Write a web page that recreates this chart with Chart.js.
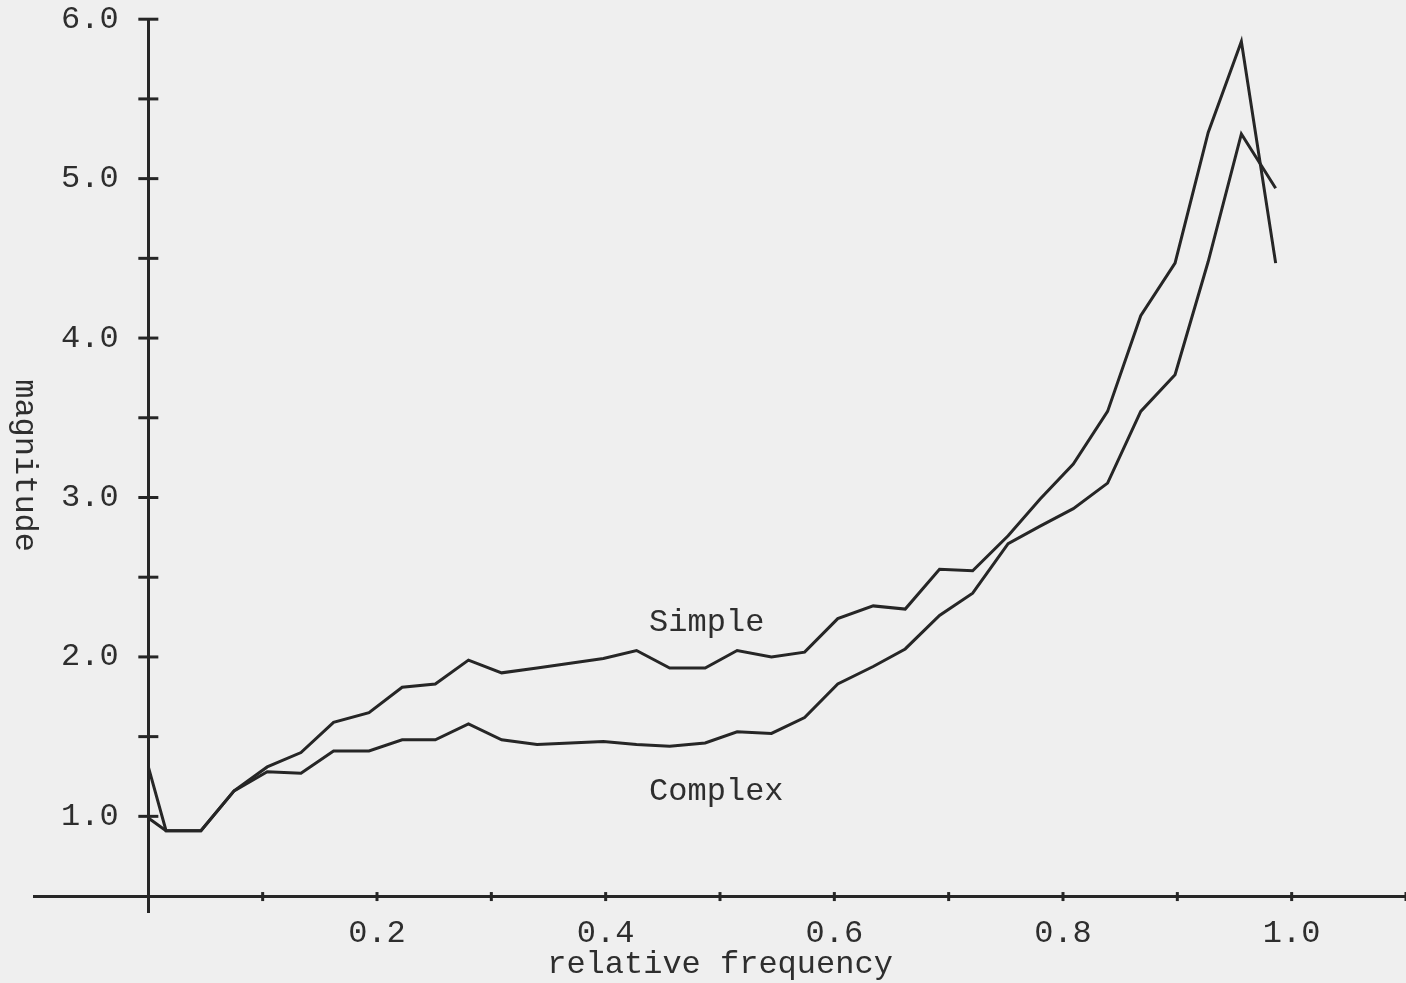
<!DOCTYPE html>
<html>
<head>
<meta charset="utf-8">
<title>magnitude vs relative frequency</title>
<script src="https://cdn.jsdelivr.net/npm/chart.js@4.4.0/dist/chart.umd.min.js"></script>
<style>
  html, body { margin: 0; padding: 0; background: #efefef; }
  canvas { display: block; }
</style>
</head>
<body>
<canvas id="magChart" width="1406" height="983"></canvas>
<script>
// sample points along the relative frequency axis
const freq = [0, 0.0155, 0.046, 0.075, 0.104, 0.1335, 0.162, 0.193, 0.222, 0.251, 0.280,
  0.309, 0.340, 0.369, 0.398, 0.427, 0.456, 0.487, 0.515, 0.545, 0.574,
  0.603, 0.634, 0.662, 0.692, 0.721, 0.752, 0.780, 0.809, 0.839, 0.868,
  0.898, 0.927, 0.956, 0.986];

const simpleMag = [0.99, 0.91, 0.91, 1.16, 1.31, 1.40, 1.59, 1.65, 1.81, 1.83, 1.98,
  1.90, 1.93, 1.96, 1.99, 2.04, 1.93, 1.93, 2.04, 2.00, 2.03,
  2.24, 2.32, 2.30, 2.55, 2.54, 2.76, 2.99, 3.21, 3.54, 4.14,
  4.47, 5.29, 5.86, 4.47];

const complexMag = [1.31, 0.91, 0.91, 1.16, 1.28, 1.27, 1.41, 1.41, 1.48, 1.48, 1.58,
  1.48, 1.45, 1.46, 1.47, 1.45, 1.44, 1.46, 1.53, 1.52, 1.62,
  1.83, 1.94, 2.05, 2.26, 2.40, 2.71, 2.82, 2.93, 3.09, 3.54,
  3.77, 4.48, 5.28, 4.94];

// which ticks get a printed label
const xLabelValues = [0.2, 0.4, 0.6, 0.8, 1.0];
const yLabelValues = [1, 2, 3, 4, 5, 6];

const ink = '#262626';
const textInk = '#2e2e2e';
const monoFont = { family: "'Liberation Mono', 'DejaVu Sans Mono', monospace", size: 32 };

function toPoints(ys) {
    return freq.map((f, i) => ({ x: f, y: ys[i] }));
}

function yLabel(v) {
    const r = Math.round(v * 10) / 10;
    return yLabelValues.includes(r) ? r.toFixed(1) : '';
}

// tick marks that cross both axes, like the hand drawn original
const crossTicks = {
    id: 'crossTicks',
    afterDraw(chart) {
        const { ctx, scales: { x, y } } = chart;
        const x0 = x.getPixelForValue(0);
        const y0 = y.getPixelForValue(0.5);
        ctx.save();
        ctx.strokeStyle = ink;
        ctx.lineWidth = 3;
        y.ticks.forEach(t => {
            if (t.value < 0.99) return;
            const py = y.getPixelForValue(t.value);
            ctx.beginPath();
            ctx.moveTo(x0 - 10, py);
            ctx.lineTo(x0 + 10, py);
            ctx.stroke();
        });
        x.ticks.forEach(t => {
            if (t.value < 0.05) return;
            const px = x.getPixelForValue(t.value);
            ctx.beginPath();
            ctx.moveTo(px, y0 - 4);
            ctx.lineTo(px, y0 + 5);
            ctx.stroke();
        });
        ctx.restore();
    }
};

// curve names written next to the lines
const curveNames = {
    id: 'curveNames',
    afterDraw(chart) {
        const { ctx, scales: { x, y } } = chart;
        ctx.save();
        ctx.fillStyle = textInk;
        ctx.font = "32px 'Liberation Mono', 'DejaVu Sans Mono', monospace";
        ctx.textAlign = 'left';
        ctx.textBaseline = 'alphabetic';
        ctx.fillText('Simple', x.getPixelForValue(0.438), y.getPixelForValue(2.165));
        ctx.fillText('Complex', x.getPixelForValue(0.438), y.getPixelForValue(1.10));
        ctx.restore();
    }
};

new Chart(document.getElementById('magChart').getContext('2d'), {
    type: 'line',
    data: {
        datasets: [{
            label: 'Simple',
            data: toPoints(simpleMag),
            borderColor: ink,
            borderWidth: 3,
            pointRadius: 0,
            tension: 0,
            fill: false
        }, {
            label: 'Complex',
            data: toPoints(complexMag),
            borderColor: ink,
            borderWidth: 3,
            pointRadius: 0,
            tension: 0,
            fill: false
        }]
    },
    options: {
        responsive: false,
        animation: false,
        layout: { padding: { left: 34, right: 0, top: 18, bottom: 71 } },
        plugins: {
            legend: { display: false },
            tooltip: { enabled: false }
        },
        scales: {
            x: {
                type: 'linear',
                position: { y: 0.5 },
                min: -0.1,
                max: 1.1,
                border: { display: true, color: ink, width: 3 },
                grid: { drawOnChartArea: false, drawTicks: true, tickLength: 18, tickColor: 'rgba(0,0,0,0)' },
                ticks: {
                    stepSize: 0.1,
                    autoSkip: false,
                    maxRotation: 0,
                    padding: 0,
                    color: textInk,
                    font: monoFont,
                    callback: function (v) {
                        const r = Math.round(v * 10) / 10;
                        return xLabelValues.includes(r) ? r.toFixed(1) : '';
                    }
                },
                title: {
                    display: true,
                    text: 'relative frequency',
                    color: textInk,
                    font: monoFont,
                    padding: { top: 0, bottom: 0 }
                },
                afterFit(scale) { scale.height = 88; }
            },
            // the drawn magnitude axis, crossing at frequency 0
            y: {
                type: 'linear',
                position: { x: 0 },
                min: 0.4,
                max: 6.0,
                border: { display: true, color: ink, width: 3 },
                grid: { drawOnChartArea: false, drawTicks: false },
                ticks: { stepSize: 0.5, autoSkip: false, display: false }
            },
            // same range, only carries the labels a little left of the axis line
            yLabels: {
                type: 'linear',
                axis: 'y',
                position: { x: -0.026 },
                min: 0.4,
                max: 6.0,
                border: { display: false },
                grid: { drawOnChartArea: false, drawTicks: false },
                ticks: {
                    stepSize: 0.5,
                    autoSkip: false,
                    padding: 0,
                    color: textInk,
                    font: monoFont,
                    callback: yLabel
                },
                title: {
                    display: true,
                    text: 'magnitude',
                    color: textInk,
                    font: monoFont,
                    padding: { top: 4, bottom: 4 }
                },
                afterFit(scale) { scale.width = 117; }
            }
        }
    },
    plugins: [crossTicks, curveNames]
});
</script>
</body>
</html>
